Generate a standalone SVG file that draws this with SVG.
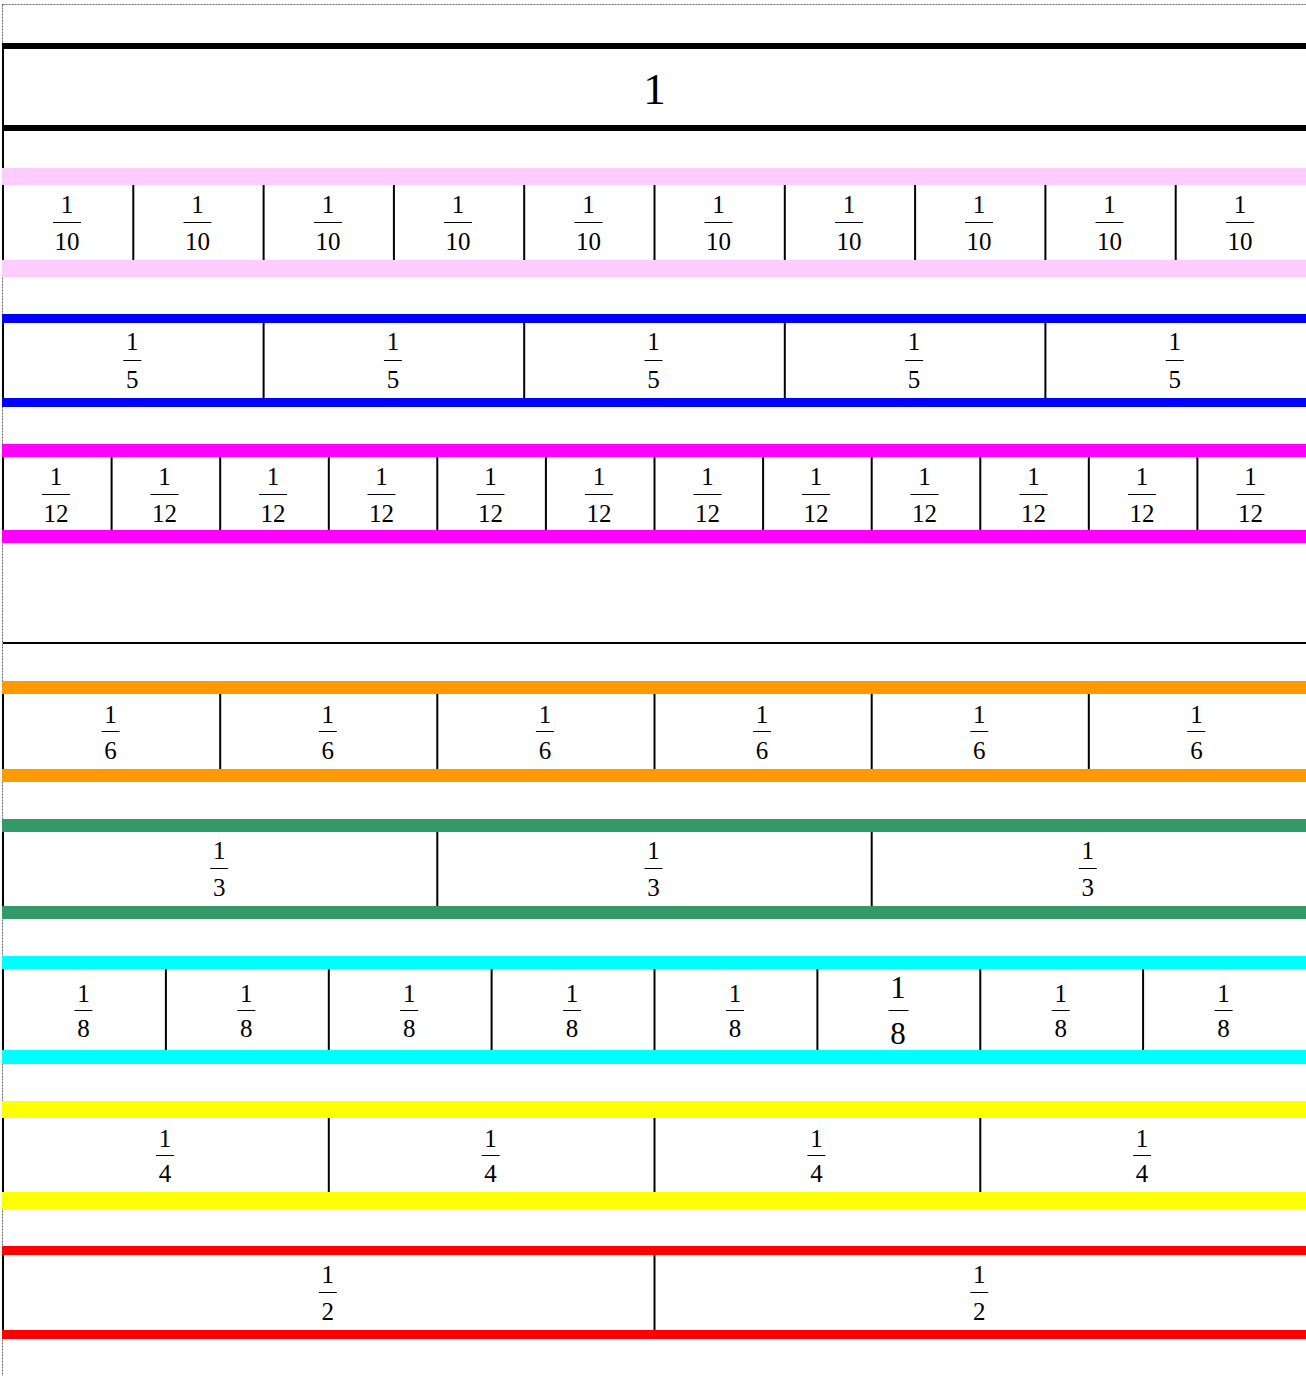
<svg xmlns="http://www.w3.org/2000/svg" width="1306" height="1376" viewBox="0 0 1306 1376">
<style>
.t{font-family:"Liberation Serif","Times New Roman",serif;font-size:25px;fill:#000;text-anchor:middle}
.big{font-size:31px}
.one{font-size:45px}
.fb{stroke:#000;stroke-width:1}
.dv{stroke:#000;stroke-width:2}
.edge{stroke:#000;stroke-width:2}
</style>
<rect width="1306" height="1376" fill="#fff"/>
<rect x="2.5" y="4.5" width="1306" height="1380" fill="none" stroke="#666" stroke-width="1" stroke-dasharray="2,1"/>
<g id="row-1">
<rect x="3" y="43" width="1303" height="6" fill="#000"/>
<rect x="3" y="125" width="1303" height="6" fill="#000"/>
<line class="edge" x1="3" y1="43" x2="3" y2="260"/>
<text class="t one" x="654.5" y="104">1</text>
</g>
<g id="row-tenths">
<rect x="2" y="168" width="1304" height="17" fill="#FFCCFF"/>
<rect x="2" y="260" width="1304" height="17" fill="#FFCCFF"/>
<g class="dv">
<line x1="133.3" y1="185" x2="133.3" y2="260"/><line x1="263.6" y1="185" x2="263.6" y2="260"/><line x1="393.9" y1="185" x2="393.9" y2="260"/><line x1="524.2" y1="185" x2="524.2" y2="260"/><line x1="654.5" y1="185" x2="654.5" y2="260"/><line x1="784.8" y1="185" x2="784.8" y2="260"/><line x1="915.1" y1="185" x2="915.1" y2="260"/><line x1="1045.4" y1="185" x2="1045.4" y2="260"/><line x1="1175.7" y1="185" x2="1175.7" y2="260"/>
</g>
<g id="f10-1"><text class="t" x="67" y="213">1</text><line class="fb" x1="53" y1="222.5" x2="81" y2="222.5"/><text class="t" x="67" y="250">10</text></g>
<g id="f10-2"><text class="t" x="197.5" y="213">1</text><line class="fb" x1="183.5" y1="222.5" x2="211.5" y2="222.5"/><text class="t" x="197.5" y="250">10</text></g>
<g id="f10-3"><text class="t" x="328" y="213">1</text><line class="fb" x1="314" y1="222.5" x2="342" y2="222.5"/><text class="t" x="328" y="250">10</text></g>
<g id="f10-4"><text class="t" x="458" y="213">1</text><line class="fb" x1="444" y1="222.5" x2="472" y2="222.5"/><text class="t" x="458" y="250">10</text></g>
<g id="f10-5"><text class="t" x="588.5" y="213">1</text><line class="fb" x1="574.5" y1="222.5" x2="602.5" y2="222.5"/><text class="t" x="588.5" y="250">10</text></g>
<g id="f10-6"><text class="t" x="718.5" y="213">1</text><line class="fb" x1="704.5" y1="222.5" x2="732.5" y2="222.5"/><text class="t" x="718.5" y="250">10</text></g>
<g id="f10-7"><text class="t" x="849" y="213">1</text><line class="fb" x1="835" y1="222.5" x2="863" y2="222.5"/><text class="t" x="849" y="250">10</text></g>
<g id="f10-8"><text class="t" x="979" y="213">1</text><line class="fb" x1="965" y1="222.5" x2="993" y2="222.5"/><text class="t" x="979" y="250">10</text></g>
<g id="f10-9"><text class="t" x="1109.5" y="213">1</text><line class="fb" x1="1095.5" y1="222.5" x2="1123.5" y2="222.5"/><text class="t" x="1109.5" y="250">10</text></g>
<g id="f10-10"><text class="t" x="1240" y="213">1</text><line class="fb" x1="1226" y1="222.5" x2="1254" y2="222.5"/><text class="t" x="1240" y="250">10</text></g>
</g>
<g id="row-fifths">
<rect x="2" y="314" width="1304" height="9" fill="#0000FF"/>
<rect x="2" y="398" width="1304" height="9" fill="#0000FF"/>
<line class="edge" x1="3" y1="323" x2="3" y2="398"/>
<g class="dv">
<line x1="263.6" y1="323" x2="263.6" y2="398"/><line x1="524.2" y1="323" x2="524.2" y2="398"/><line x1="784.8" y1="323" x2="784.8" y2="398"/><line x1="1045.4" y1="323" x2="1045.4" y2="398"/>
</g>
<g id="f5-1"><text class="t" x="132.3" y="350">1</text><line class="fb" x1="123.3" y1="360.5" x2="141.3" y2="360.5"/><text class="t" x="132.3" y="388">5</text></g>
<g id="f5-2"><text class="t" x="392.9" y="350">1</text><line class="fb" x1="383.9" y1="360.5" x2="401.9" y2="360.5"/><text class="t" x="392.9" y="388">5</text></g>
<g id="f5-3"><text class="t" x="653.5" y="350">1</text><line class="fb" x1="644.5" y1="360.5" x2="662.5" y2="360.5"/><text class="t" x="653.5" y="388">5</text></g>
<g id="f5-4"><text class="t" x="914.1" y="350">1</text><line class="fb" x1="905.1" y1="360.5" x2="923.1" y2="360.5"/><text class="t" x="914.1" y="388">5</text></g>
<g id="f5-5"><text class="t" x="1174.7" y="350">1</text><line class="fb" x1="1165.7" y1="360.5" x2="1183.7" y2="360.5"/><text class="t" x="1174.7" y="388">5</text></g>
</g>
<g id="row-twelfths">
<rect x="2" y="444" width="1304" height="13" fill="#FF00FF"/>
<rect x="2" y="530" width="1304" height="13" fill="#FF00FF"/>
<line class="edge" x1="3" y1="457" x2="3" y2="530"/>
<g class="dv">
<line x1="111.6" y1="457" x2="111.6" y2="530"/><line x1="220.2" y1="457" x2="220.2" y2="530"/><line x1="328.8" y1="457" x2="328.8" y2="530"/><line x1="437.3" y1="457" x2="437.3" y2="530"/><line x1="545.9" y1="457" x2="545.9" y2="530"/><line x1="654.5" y1="457" x2="654.5" y2="530"/><line x1="763.1" y1="457" x2="763.1" y2="530"/><line x1="871.7" y1="457" x2="871.7" y2="530"/><line x1="980.3" y1="457" x2="980.3" y2="530"/><line x1="1088.8" y1="457" x2="1088.8" y2="530"/><line x1="1197.4" y1="457" x2="1197.4" y2="530"/>
</g>
<g id="f12-1"><text class="t" x="56" y="485">1</text><line class="fb" x1="42" y1="494.5" x2="70" y2="494.5"/><text class="t" x="56" y="522">12</text></g>
<g id="f12-2"><text class="t" x="164.5" y="485">1</text><line class="fb" x1="150.5" y1="494.5" x2="178.5" y2="494.5"/><text class="t" x="164.5" y="522">12</text></g>
<g id="f12-3"><text class="t" x="273" y="485">1</text><line class="fb" x1="259" y1="494.5" x2="287" y2="494.5"/><text class="t" x="273" y="522">12</text></g>
<g id="f12-4"><text class="t" x="381.5" y="485">1</text><line class="fb" x1="367.5" y1="494.5" x2="395.5" y2="494.5"/><text class="t" x="381.5" y="522">12</text></g>
<g id="f12-5"><text class="t" x="490.5" y="485">1</text><line class="fb" x1="476.5" y1="494.5" x2="504.5" y2="494.5"/><text class="t" x="490.5" y="522">12</text></g>
<g id="f12-6"><text class="t" x="599" y="485">1</text><line class="fb" x1="585" y1="494.5" x2="613" y2="494.5"/><text class="t" x="599" y="522">12</text></g>
<g id="f12-7"><text class="t" x="707.5" y="485">1</text><line class="fb" x1="693.5" y1="494.5" x2="721.5" y2="494.5"/><text class="t" x="707.5" y="522">12</text></g>
<g id="f12-8"><text class="t" x="816" y="485">1</text><line class="fb" x1="802" y1="494.5" x2="830" y2="494.5"/><text class="t" x="816" y="522">12</text></g>
<g id="f12-9"><text class="t" x="924.5" y="485">1</text><line class="fb" x1="910.5" y1="494.5" x2="938.5" y2="494.5"/><text class="t" x="924.5" y="522">12</text></g>
<g id="f12-10"><text class="t" x="1033.5" y="485">1</text><line class="fb" x1="1019.5" y1="494.5" x2="1047.5" y2="494.5"/><text class="t" x="1033.5" y="522">12</text></g>
<g id="f12-11"><text class="t" x="1142" y="485">1</text><line class="fb" x1="1128" y1="494.5" x2="1156" y2="494.5"/><text class="t" x="1142" y="522">12</text></g>
<g id="f12-12"><text class="t" x="1250.5" y="485">1</text><line class="fb" x1="1236.5" y1="494.5" x2="1264.5" y2="494.5"/><text class="t" x="1250.5" y="522">12</text></g>
</g>
<g id="separator">
<rect x="3" y="642" width="1303" height="2" fill="#000"/>
</g>
<g id="row-sixths">
<rect x="2" y="681" width="1304" height="13" fill="#FF9900"/>
<rect x="2" y="769" width="1304" height="13" fill="#FF9900"/>
<line class="edge" x1="3" y1="694" x2="3" y2="769"/>
<g class="dv">
<line x1="220.2" y1="694" x2="220.2" y2="769"/><line x1="437.3" y1="694" x2="437.3" y2="769"/><line x1="654.5" y1="694" x2="654.5" y2="769"/><line x1="871.7" y1="694" x2="871.7" y2="769"/><line x1="1088.8" y1="694" x2="1088.8" y2="769"/>
</g>
<g id="f6-1"><text class="t" x="110.6" y="723">1</text><line class="fb" x1="101.6" y1="731.5" x2="119.6" y2="731.5"/><text class="t" x="110.6" y="759">6</text></g>
<g id="f6-2"><text class="t" x="327.8" y="723">1</text><line class="fb" x1="318.8" y1="731.5" x2="336.8" y2="731.5"/><text class="t" x="327.8" y="759">6</text></g>
<g id="f6-3"><text class="t" x="544.9" y="723">1</text><line class="fb" x1="535.9" y1="731.5" x2="553.9" y2="731.5"/><text class="t" x="544.9" y="759">6</text></g>
<g id="f6-4"><text class="t" x="762.1" y="723">1</text><line class="fb" x1="753.1" y1="731.5" x2="771.1" y2="731.5"/><text class="t" x="762.1" y="759">6</text></g>
<g id="f6-5"><text class="t" x="979.3" y="723">1</text><line class="fb" x1="970.3" y1="731.5" x2="988.3" y2="731.5"/><text class="t" x="979.3" y="759">6</text></g>
<g id="f6-6"><text class="t" x="1196.4" y="723">1</text><line class="fb" x1="1187.4" y1="731.5" x2="1205.4" y2="731.5"/><text class="t" x="1196.4" y="759">6</text></g>
</g>
<g id="row-thirds">
<rect x="2" y="819" width="1304" height="13" fill="#339966"/>
<rect x="2" y="906" width="1304" height="13" fill="#339966"/>
<line class="edge" x1="3" y1="832" x2="3" y2="906"/>
<g class="dv">
<line x1="437.3" y1="832" x2="437.3" y2="906"/><line x1="871.7" y1="832" x2="871.7" y2="906"/>
</g>
<g id="f3-1"><text class="t" x="219.2" y="859">1</text><line class="fb" x1="210.2" y1="868.5" x2="228.2" y2="868.5"/><text class="t" x="219.2" y="896">3</text></g>
<g id="f3-2"><text class="t" x="653.5" y="859">1</text><line class="fb" x1="644.5" y1="868.5" x2="662.5" y2="868.5"/><text class="t" x="653.5" y="896">3</text></g>
<g id="f3-3"><text class="t" x="1087.8" y="859">1</text><line class="fb" x1="1078.8" y1="868.5" x2="1096.8" y2="868.5"/><text class="t" x="1087.8" y="896">3</text></g>
</g>
<g id="row-eighths">
<rect x="2" y="956" width="1304" height="13" fill="#00FFFF"/>
<rect x="2" y="1050" width="1304" height="14" fill="#00FFFF"/>
<line class="edge" x1="3" y1="969" x2="3" y2="1050"/>
<g class="dv">
<line x1="165.9" y1="969" x2="165.9" y2="1050"/><line x1="328.8" y1="969" x2="328.8" y2="1050"/><line x1="491.6" y1="969" x2="491.6" y2="1050"/><line x1="654.5" y1="969" x2="654.5" y2="1050"/><line x1="817.4" y1="969" x2="817.4" y2="1050"/><line x1="980.3" y1="969" x2="980.3" y2="1050"/><line x1="1143.1" y1="969" x2="1143.1" y2="1050"/>
</g>
<g id="f8-1"><text class="t" x="83.4" y="1002">1</text><line class="fb" x1="74.4" y1="1010.5" x2="92.4" y2="1010.5"/><text class="t" x="83.4" y="1037">8</text></g>
<g id="f8-2"><text class="t" x="246.3" y="1002">1</text><line class="fb" x1="237.3" y1="1010.5" x2="255.3" y2="1010.5"/><text class="t" x="246.3" y="1037">8</text></g>
<g id="f8-3"><text class="t" x="409.2" y="1002">1</text><line class="fb" x1="400.2" y1="1010.5" x2="418.2" y2="1010.5"/><text class="t" x="409.2" y="1037">8</text></g>
<g id="f8-4"><text class="t" x="572.1" y="1002">1</text><line class="fb" x1="563.1" y1="1010.5" x2="581.1" y2="1010.5"/><text class="t" x="572.1" y="1037">8</text></g>
<g id="f8-5"><text class="t" x="734.9" y="1002">1</text><line class="fb" x1="725.9" y1="1010.5" x2="743.9" y2="1010.5"/><text class="t" x="734.9" y="1037">8</text></g>
<g id="f8-6"><text class="t big" x="898" y="998">1</text><line class="fb" x1="888.5" y1="1010.5" x2="908.5" y2="1010.5"/><text class="t big" x="898" y="1044">8</text></g>
<g id="f8-7"><text class="t" x="1060.7" y="1002">1</text><line class="fb" x1="1051.7" y1="1010.5" x2="1069.7" y2="1010.5"/><text class="t" x="1060.7" y="1037">8</text></g>
<g id="f8-8"><text class="t" x="1223.6" y="1002">1</text><line class="fb" x1="1214.6" y1="1010.5" x2="1232.6" y2="1010.5"/><text class="t" x="1223.6" y="1037">8</text></g>
</g>
<g id="row-quarters">
<rect x="2" y="1101" width="1304" height="17" fill="#FFFF00"/>
<rect x="2" y="1192" width="1304" height="17" fill="#FFFF00"/>
<line class="edge" x1="3" y1="1118" x2="3" y2="1192"/>
<g class="dv">
<line x1="328.8" y1="1118" x2="328.8" y2="1192"/><line x1="654.5" y1="1118" x2="654.5" y2="1192"/><line x1="980.3" y1="1118" x2="980.3" y2="1192"/>
</g>
<g id="f4-1"><text class="t" x="164.9" y="1147">1</text><line class="fb" x1="155.9" y1="1155.5" x2="173.9" y2="1155.5"/><text class="t" x="164.9" y="1182">4</text></g>
<g id="f4-2"><text class="t" x="490.6" y="1147">1</text><line class="fb" x1="481.6" y1="1155.5" x2="499.6" y2="1155.5"/><text class="t" x="490.6" y="1182">4</text></g>
<g id="f4-3"><text class="t" x="816.4" y="1147">1</text><line class="fb" x1="807.4" y1="1155.5" x2="825.4" y2="1155.5"/><text class="t" x="816.4" y="1182">4</text></g>
<g id="f4-4"><text class="t" x="1142.1" y="1147">1</text><line class="fb" x1="1133.1" y1="1155.5" x2="1151.1" y2="1155.5"/><text class="t" x="1142.1" y="1182">4</text></g>
</g>
<g id="row-halves">
<rect x="2" y="1246" width="1304" height="9" fill="#FF0000"/>
<rect x="2" y="1330" width="1304" height="9" fill="#FF0000"/>
<line class="edge" x1="3" y1="1255" x2="3" y2="1330"/>
<g class="dv">
<line x1="654.5" y1="1255" x2="654.5" y2="1330"/>
</g>
<g id="f2-1"><text class="t" x="327.8" y="1283">1</text><line class="fb" x1="318.8" y1="1292.5" x2="336.8" y2="1292.5"/><text class="t" x="327.8" y="1320">2</text></g>
<g id="f2-2"><text class="t" x="979.3" y="1283">1</text><line class="fb" x1="970.3" y1="1292.5" x2="988.3" y2="1292.5"/><text class="t" x="979.3" y="1320">2</text></g>
</g>
</svg>
